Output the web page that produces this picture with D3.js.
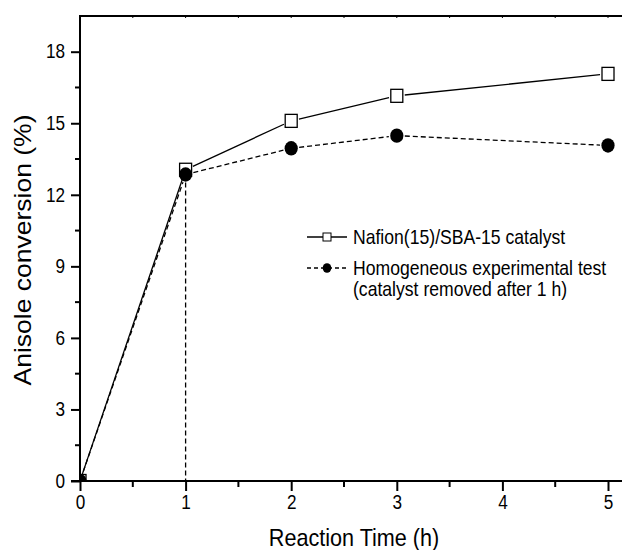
<!DOCTYPE html>
<html>
<head>
<meta charset="utf-8">
<title>anisole conversion</title>
<script type="text/javascript" src="https://cdn.jsdelivr.net/npm/d3@7"></script>
<style>
  body { margin: 0; background: #fff; }
  text { font-family: "Liberation Sans", Arial, sans-serif; fill: #000; }
</style>
</head>
<body>
<script type="text/javascript">
// data
var times = [0, 1, 2, 3, 5]
var nafion = [0, 13.05, 15.1, 16.15, 17.07]
var homog = [0, 12.85, 13.95, 14.48, 14.07]
var xTicks = [0, 1, 2, 3, 4, 5]
var yTicks = [0, 3, 6, 9, 12, 15, 18]
var legendLabels = ["Nafion(15)/SBA-15 catalyst", "Homogeneous experimental test", "(catalyst removed after 1 h)"]

var w = 622, h = 550
// (plotTop, not "top": window.top is read-only)
var plotLeft = 80, plotTop = 16, plotRight = 626, plotBottom = 481
var squeeze = 0.88   // the original figure is a bit squashed sideways

var svg = d3.select("body").append("svg").attr("width", w).attr("height", h)

var x = d3.scaleLinear().domain([0, 5]).range([plotLeft, 608])
var y = d3.scaleLinear().domain([0, 18]).range([plotBottom, 51.7])

// clip for the markers sitting on the axes
svg.append("clipPath").attr("id", "plot")
  .append("rect").attr("x", plotLeft).attr("y", plotTop)
  .attr("width", plotRight - plotLeft).attr("height", plotBottom - plotTop)

// axes
var xAxis = d3.axisBottom(x).tickValues(xTicks).tickFormat(d3.format("d")).tickSize(10).tickPadding(4)
var gx = svg.append("g").attr("transform", "translate(0," + plotBottom + ")").call(xAxis)
var yAxis = d3.axisLeft(y).tickValues(yTicks).tickFormat(d3.format("d")).tickSize(9).tickPadding(6)
var gy = svg.append("g").attr("transform", "translate(" + plotLeft + ",0)").call(yAxis)

;[gx, gy].forEach(function(g) {
  g.select(".domain").remove()
  g.selectAll(".tick line").attr("stroke", "#000").attr("stroke-width", 2)
  g.selectAll(".tick text").style("font-size", "19.5px").attr("font-family", null)
})
gx.selectAll(".tick text").attr("transform", "scale(" + squeeze + ",1)")
gy.selectAll(".tick text").attr("x", 0).attr("transform", "translate(-15,0) scale(" + squeeze + ",1)")

// minor ticks
var xMinor = [0.5, 1.5, 2.5, 3.5, 4.5]
var yMinor = [1.5, 4.5, 7.5, 10.5, 13.5, 16.5]
svg.selectAll(".xm").data(xMinor).enter().append("line")
  .attr("x1", d => x(d)).attr("x2", d => x(d)).attr("y1", plotBottom).attr("y2", plotBottom + 6)
  .attr("stroke", "#000").attr("stroke-width", 2)
svg.selectAll(".ym").data(yMinor).enter().append("line")
  .attr("y1", d => y(d)).attr("y2", d => y(d)).attr("x1", plotLeft).attr("x2", plotLeft - 5)
  .attr("stroke", "#000").attr("stroke-width", 2)
// top frame with tiny ticks
svg.append("line").attr("x1", plotLeft - 1).attr("x2", plotRight).attr("y1", plotTop).attr("y2", plotTop)
  .attr("stroke", "#000").attr("stroke-width", 2)
svg.selectAll(".tt").data(xTicks.concat(xMinor)).enter().append("line")
  .attr("x1", d => x(d)).attr("x2", d => x(d)).attr("y1", plotTop).attr("y2", plotTop + 2)
  .attr("stroke", "#000").attr("stroke-width", 1)
// left and bottom axis lines
svg.append("line").attr("x1", plotLeft).attr("x2", plotLeft).attr("y1", plotTop).attr("y2", plotBottom)
  .attr("stroke", "#000").attr("stroke-width", 2)
svg.append("line").attr("x1", plotLeft - 9).attr("x2", plotRight).attr("y1", plotBottom).attr("y2", plotBottom)
  .attr("stroke", "#000").attr("stroke-width", 2)

// axis titles
svg.append("text").attr("transform", "translate(354,546) scale(0.9,1)").attr("text-anchor", "middle")
  .style("font-size", "24px").text("Reaction Time (h)")
svg.append("text").attr("transform", "translate(31,250) scale(" + squeeze + ",1) rotate(-90)")
  .attr("text-anchor", "middle")
  .style("font-size", "26.5px").text("Anisole conversion (%)")

// line segments that stop short of the markers, Origin style
function segments(vals, gap) {
  var out = []
  for (var i = 1; i < vals.length; i++) {
    var x0 = x(times[i - 1]), y0 = y(vals[i - 1]), x1 = x(times[i]), y1 = y(vals[i])
    var dx = x1 - x0, dy = y1 - y0, len = Math.sqrt(dx * dx + dy * dy)
    var g0 = i - 1 === 0 ? 2 : gap
    out.push([x0 + dx * g0 / len, y0 + dy * g0 / len, x1 - dx * gap / len, y1 - dy * gap / len])
  }
  return out
}

var plot = svg.append("g").attr("clip-path", "url(#plot)")

plot.selectAll(".s1").data(segments(nafion, 8)).enter().append("line")
  .attr("x1", d => d[0]).attr("y1", d => d[1]).attr("x2", d => d[2]).attr("y2", d => d[3])
  .attr("stroke", "#000").attr("stroke-width", 1.3)
plot.selectAll(".s2").data(segments(homog, 8)).enter().append("line")
  .attr("x1", d => d[0]).attr("y1", d => d[1]).attr("x2", d => d[2]).attr("y2", d => d[3])
  .attr("stroke", "#000").attr("stroke-width", 1.3).attr("stroke-dasharray", "5,3")

// drop line where the catalyst was removed
plot.append("line").attr("x1", x(times[1])).attr("x2", x(times[1]))
  .attr("y1", y(homog[1]) + 8).attr("y2", plotBottom)
  .attr("stroke", "#000").attr("stroke-width", 1.3).attr("stroke-dasharray", "5,3")

// markers
plot.selectAll(".sq").data(times).enter().append("rect")
  .attr("x", (d, i) => x(d) - 6).attr("y", (d, i) => y(nafion[i]) - 6.5)
  .attr("width", 12).attr("height", 13)
  .attr("fill", "#fff").attr("stroke", "#000").attr("stroke-width", 1.3)
plot.selectAll(".ci").data(times).enter().append("ellipse")
  .attr("cx", d => x(d)).attr("cy", (d, i) => y(homog[i])).attr("rx", 6.6).attr("ry", 7.2)
  .attr("fill", "#000")

// legend
var lg = svg.append("g")
lg.append("line").attr("x1", 307).attr("x2", 347).attr("y1", 237).attr("y2", 237)
  .attr("stroke", "#000").attr("stroke-width", 1.3)
lg.append("rect").attr("x", 323).attr("y", 233).attr("width", 8).attr("height", 8)
  .attr("fill", "#fff").attr("stroke", "#000").attr("stroke-width", 1)
lg.append("line").attr("x1", 307).attr("x2", 347).attr("y1", 268).attr("y2", 268)
  .attr("stroke", "#000").attr("stroke-width", 1.3).attr("stroke-dasharray", "4,3")
lg.append("ellipse").attr("cx", 327).attr("cy", 268).attr("rx", 4.3).attr("ry", 4.8).attr("fill", "#000")
lg.selectAll(".lt").data(legendLabels).enter().append("text")
  .attr("transform", (d, i) => "translate(353," + [244, 275, 296][i] + ") scale(" + squeeze + ",1)")
  .style("font-size", "20px").text(d => d)
</script>
</body>
</html>
